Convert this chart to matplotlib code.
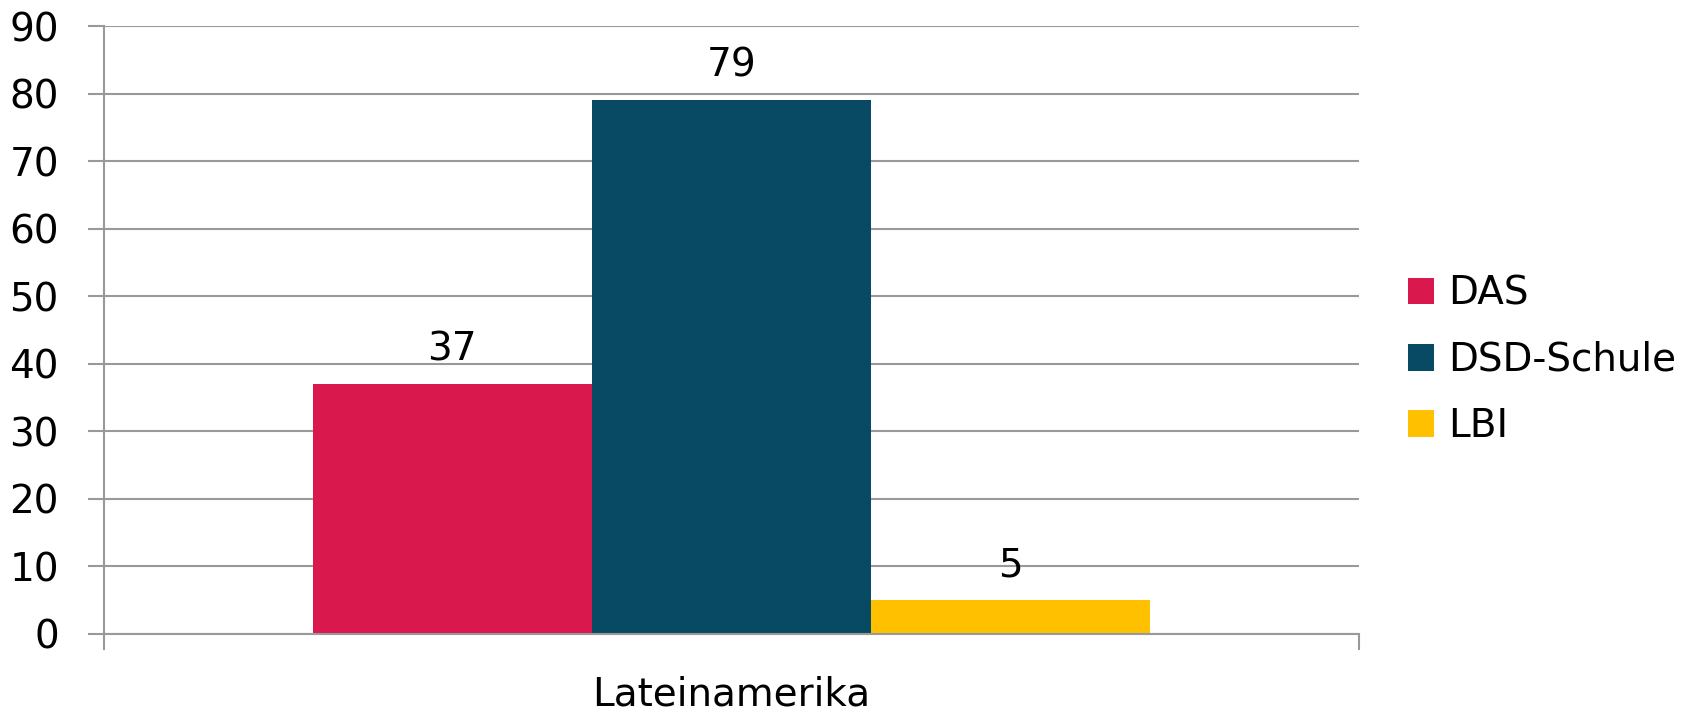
import numpy as np
import matplotlib
matplotlib.use("Agg")
import matplotlib.pyplot as plt

region = ["Lateinamerika"]
series = ["DAS", "DSD-Schule", "LBI"]
values = [37, 79, 5]
colors = ["#D9194E", "#084A63", "#FFC000"]
y_ticks = [0, 10, 20, 30, 40, 50, 60, 70, 80, 90]

plt.rcParams['font.family'] = ['DejaVu Sans']

fig = plt.figure(figsize=(17, 7.15), dpi=100)
ax = fig.add_axes([0.0612, 0.1133, 0.7382, 0.8503])

bw = 0.2225
offsets = (np.arange(len(series)) - 1) * bw
for i, (name, v, c) in enumerate(zip(series, values, colors)):
    ax.bar(offsets[i], v, width=bw, color=c, label=name, zorder=3)
    ax.annotate(str(v), (offsets[i], v), xytext=(0, 25), textcoords="offset points",
                ha="center", va="center", fontsize=28)

ax.set_xlim(-0.5, 0.5)
ax.set_ylim(0, 90)
ax.set_yticks(y_ticks)
ax.set_yticklabels([str(t) for t in y_ticks], fontsize=28)
ax.grid(axis="y", color="#999999", linewidth=1.5, zorder=0)

ax.set_xticks([0])
ax.set_xticklabels(region, fontsize=28)
ax.tick_params(axis="x", length=0, pad=30)
ax.set_xticks([-0.5, 0.5], minor=True)
ax.tick_params(axis="x", which="minor", length=11.5, width=1.5, color="#999999")
ax.tick_params(axis="y", length=11.5, width=1.5, color="#999999", pad=21)

for s in ["top", "right"]:
    ax.spines[s].set_visible(False)
for s in ["left", "bottom"]:
    ax.spines[s].set_color("#999999")
    ax.spines[s].set_linewidth(1.5)
ax.spines["bottom"].set_zorder(4)

ax.legend(loc="center left", bbox_to_anchor=(1.039, 0.4507), frameon=False, fontsize=28,
          borderpad=0, borderaxespad=0,
          handlelength=0.68, handleheight=0.68, handletextpad=0.36, labelspacing=0.73)

fig.savefig("out.png", dpi=100)
